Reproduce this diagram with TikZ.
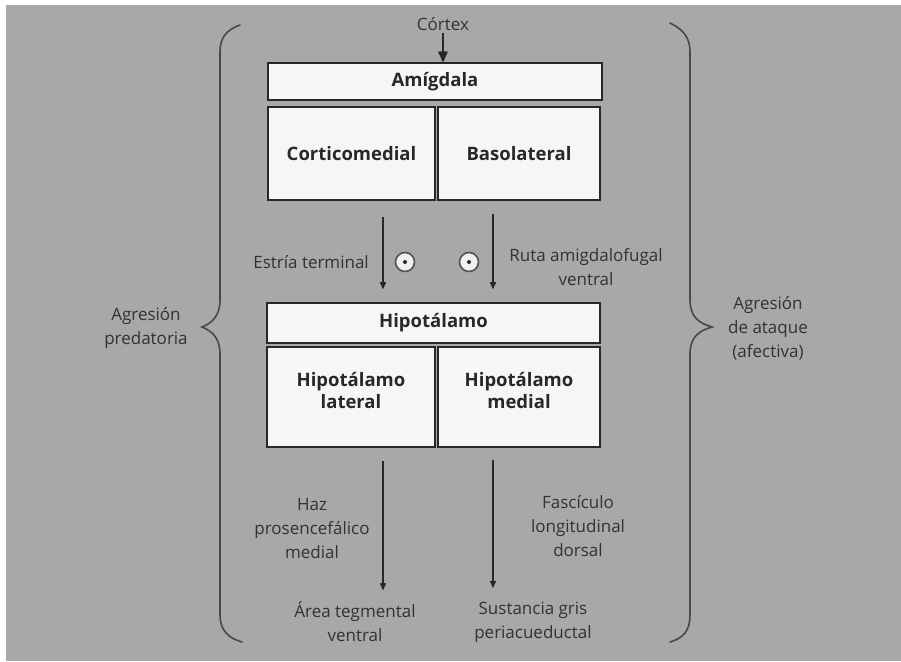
\documentclass[tikz,border=0pt]{standalone}
\usepackage{fontspec}
\setmainfont{Open Sans}
\usetikzlibrary{arrows.meta,calc}
\definecolor{bg}{RGB}{168,168,168}
\definecolor{ink}{RGB}{40,40,40}
\definecolor{txt}{RGB}{50,50,50}
\definecolor{boxfill}{RGB}{246,246,246}
\begin{document}
\begin{tikzpicture}[x=1pt,y=-1pt,
  box/.style={draw=ink, line width=2.6pt, fill=boxfill, inner sep=0pt, align=center,
              font=\bfseries\fontsize{18.5}{22}\selectfont, text=ink},
  lbl/.style={align=center, text=txt, inner sep=0pt, font=\fontsize{17}{24}\selectfont},
  flow/.style={draw=ink, line width=1.1pt, -{Latex[round,length=8pt,width=7pt]}},
  sign/.style={circle, draw=ink!80, line width=1.6pt, fill=white!88!gray, minimum size=19pt, inner sep=0pt},
  brace/.style={draw=ink!85, line width=1.6pt, line cap=round}]
\useasboundingbox (0,0) rectangle (901,661);
\fill[white] (0,0) rectangle (901,661);
\fill[bg] (6,5) rectangle (901,661);

% top: cortex and amygdala
\node[lbl] (cortex) at (443,24) {Córtex};
\node[box, minimum width=334pt, minimum height=37pt] (amig) at (435,81.5) {Amígdala};
\node[box, minimum width=167pt, minimum height=93pt] (cm) at (351.5,153.5) {Corticomedial};
\node[box, minimum width=162pt, minimum height=93pt] (bl) at (519,153.5) {Basolateral};

% hypothalamus
\node[box, minimum width=333pt, minimum height=40pt] (hip) at (433.5,323) {Hipotálamo};
\node[box, minimum width=168pt, minimum height=100pt] (hl) at (351,397) {Hipotálamo\\lateral\vphantom{\rule{0pt}{1pt}}\\[-8pt]\mbox{}};
\node[box, minimum width=162pt, minimum height=100pt] (hm) at (519,397) {Hipotálamo\\medial\\[-8pt]\mbox{}};

% targets
\node[lbl] (atv) at (355,622) {Área tegmental\\ventral};
\node[lbl] (sgp) at (533,622) {Sustancia gris\\periacueductal};

% pathway labels
\node[lbl, anchor=east] (estria) at (369,262) {Estría terminal};
\node[lbl] (ruta) at (586,267) {Ruta amigdalofugal\\ventral};
\node[lbl] (haz) at (312,529) {Haz\\prosencefálico\\medial};
\node[lbl] (fasc) at (578,526) {Fascículo\\longitudinal\\dorsal};
\node[lbl] (pred) at (146,328) {Agresión\\predatoria};
\node[lbl] (afec) at (768,328) {Agresión\\de ataque\\(afectiva)};

% signs
\node[sign] (s1) at (405,262) {};
\node[sign] (s2) at (469,262) {};
\fill[ink] (s1.center) circle (2pt);
\fill[ink] (s2.center) circle (2pt);

% connectors
\draw[draw=ink, line width=2pt, -{Latex[round,length=13pt,width=11pt]}, shorten <=2pt]
  (cortex.south) -- (cortex.south |- amig.north);
\draw[flow, shorten <=16pt, shorten >=13pt] ([xshift=31.5pt]cm.south) -- ([xshift=-50.5pt]hip.north);
\draw[flow, shorten <=13pt, shorten >=13pt] ([xshift=-26pt]bl.south) -- ([xshift=59.5pt]hip.north);
\draw[flow, shorten <=13pt, shorten >=12pt] ([xshift=32pt]hl.south) -- ([xshift=32pt]hl.south |- atv.north);
\draw[flow, shorten <=12pt, shorten >=14pt] ([xshift=-26pt]hm.south) -- ([xshift=-26pt]hm.south |- sgp.north);

% braces
\draw[brace] (240,25) .. controls (226,30) and (220,38) .. (220,52)
  -- (220,300) .. controls (220,316) and (212,323) .. (202,327)
  .. controls (212,331) and (220,338) .. (220,354)
  -- (220,615) .. controls (220,630) and (228,638) .. (242,642);
\draw[brace] (670,23) .. controls (684,30) and (690,38) .. (690,52)
  -- (690,300) .. controls (690,316) and (698,323) .. (712,327)
  .. controls (698,331) and (690,338) .. (690,354)
  -- (690,615) .. controls (690,630) and (684,638) .. (670,642);
\end{tikzpicture}
\end{document}
